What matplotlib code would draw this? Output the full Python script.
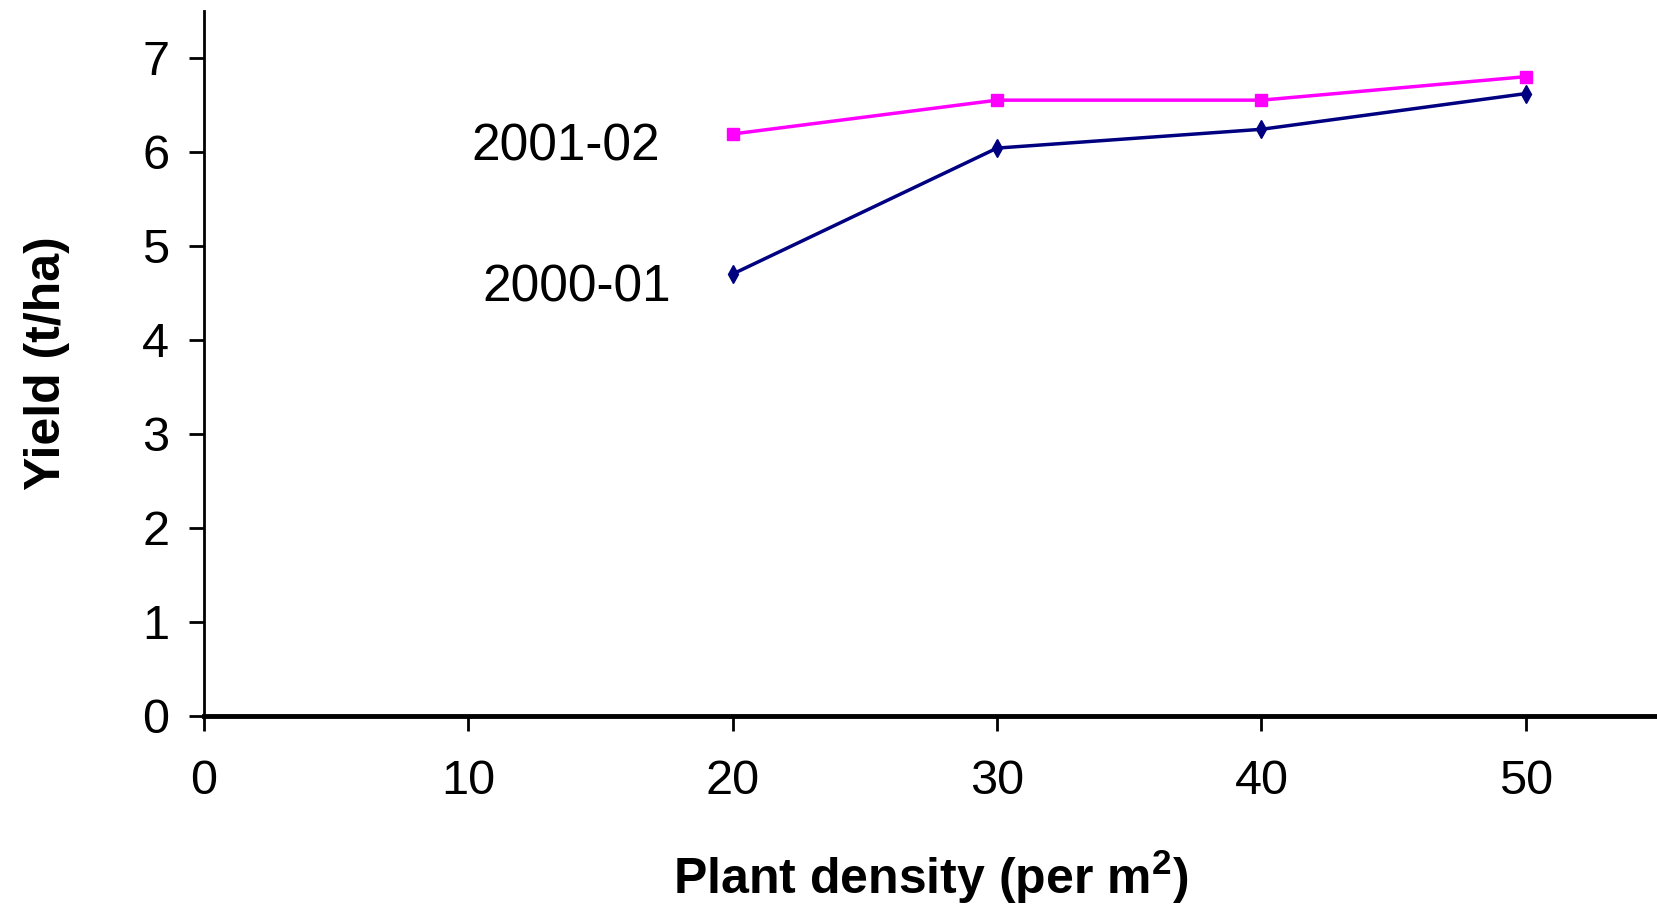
import matplotlib.pyplot as plt

density = [20, 30, 40, 50]
yield_2001 = [6.19, 6.55, 6.55, 6.80]
yield_2000 = [4.70, 6.04, 6.24, 6.62]

navy = (0.0, 0.0, 0.5)
magenta = (1.0, 0.0, 1.0)

plt.rcParams['font.family'] = ['Liberation Sans Narrow', 'Liberation Sans', 'DejaVu Sans']

fig = plt.figure(figsize=(16.58, 9.06), dpi=100)
ax = fig.add_axes([0.123, 0.21, 0.877, 0.778])

ax.plot(density, yield_2001, color=magenta, linewidth=2.5, marker='s', markersize=9, label='2001-02')
ax.plot(density, yield_2000, color=navy, linewidth=2.5, marker='d', markersize=9, label='2000-01')

ax.text(13.7, 6.05, '2001-02', fontsize=37, ha='center', va='center', family=['Liberation Sans', 'DejaVu Sans'])
ax.text(14.1, 4.55, '2000-01', fontsize=37, ha='center', va='center', family=['Liberation Sans', 'DejaVu Sans'])

ax.set_xlim(0, 55)
ax.set_ylim(0, 7.5)
ax.set_xticks([0, 10, 20, 30, 40, 50])
ax.set_yticks(range(0, 8))

ax.spines['top'].set_visible(False)
ax.spines['right'].set_visible(False)
ax.spines['left'].set_linewidth(2.0)
ax.spines['bottom'].set_linewidth(3.5)

ax.tick_params(axis='y', direction='out', length=11, width=2, labelsize=35, pad=14)
ax.tick_params(axis='x', direction='out', length=11, width=2, labelsize=35, pad=20)

ax.set_xlabel('Plant density (per m$^\\mathregular{2}$)', fontsize=36, fontweight='bold', labelpad=32)
ax.set_ylabel('Yield (t/ha)', fontsize=36, fontweight='bold', labelpad=52)

fig.savefig('out.png', dpi=100)
